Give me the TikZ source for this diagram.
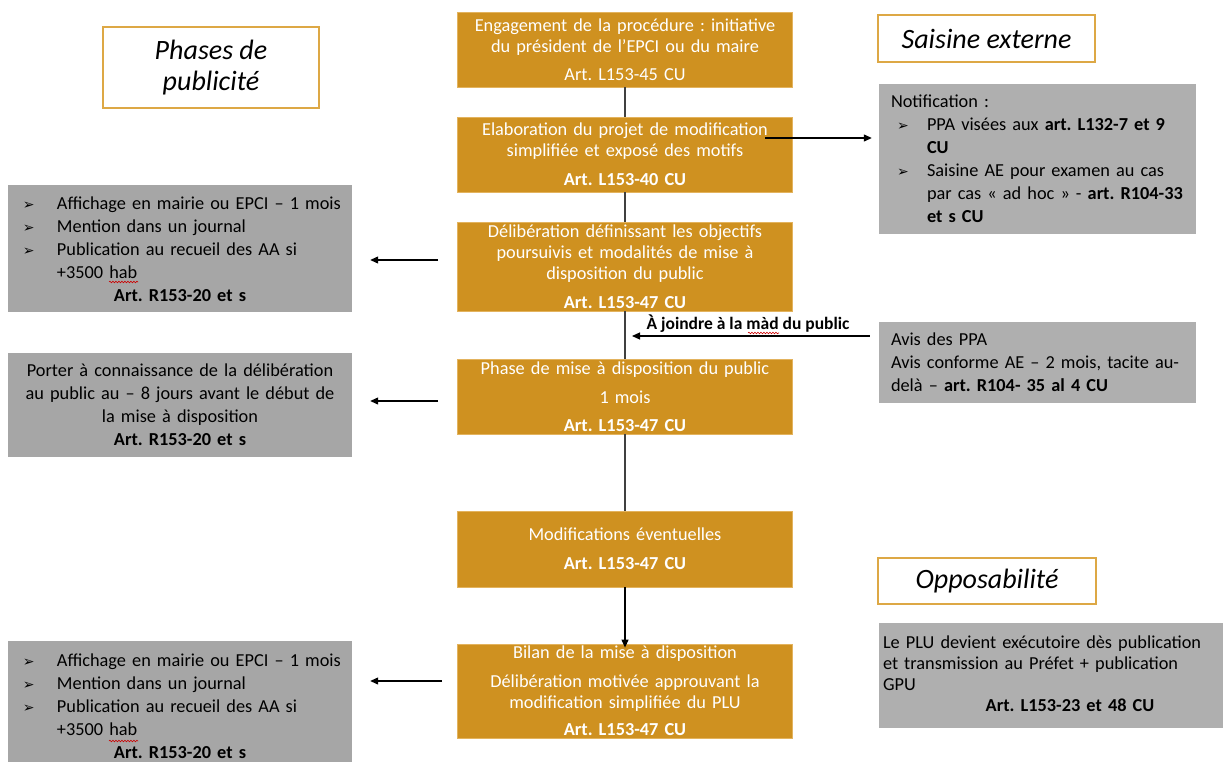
\documentclass[tikz,border=0pt]{standalone}
\usepackage{fontspec}
\setmainfont{Carlito}
\newfontfamily\dejavu{DejaVu Sans}
\usetikzlibrary{arrows.meta,decorations.pathmorphing}
\definecolor{gold}{HTML}{CF9120}
\definecolor{goldedge}{HTML}{E3B35E}
\definecolor{tborder}{HTML}{DDA845}
\definecolor{greyL}{HTML}{A6A6A6}
\definecolor{greyR}{HTML}{AFAFAF}
\definecolor{conn}{HTML}{404040}
\frenchspacing
\newcommand\arrbul{{\dejavu\fontsize{14}{14}\selectfont ➢}}
\newcommand\bulL[1]{\par\noindent\hspace*{7pt}\makebox[34pt][l]{\arrbul}#1\par}
\newcommand\conL[1]{\par\noindent\hspace*{41pt}#1\par}
\newcommand\bulR[1]{\par\noindent\hspace*{6pt}\makebox[30pt][l]{\arrbul}#1\par}
\newcommand\conR[1]{\par\noindent\hspace*{36pt}#1\par}
\begin{document}
\begin{tikzpicture}[x=1pt,y=-1pt,
  obox/.style={fill=gold, draw=goldedge, line width=0.8pt, minimum width=335pt, inner sep=0pt,
    text width=333pt, align=center, text=white, font=\fontsize{18.3}{21}\selectfont},
  tbox/.style={draw=tborder, fill=white, line width=1.2pt, inner sep=0pt, align=center,
    font=\itshape\fontsize{28}{31}\selectfont},
  lbox/.style={fill=greyL, draw=none, inner xsep=8pt, inner ysep=0pt, minimum width=344pt,
    text width=328pt, align=left, text=black, font=\fontsize{18.3}{23}\selectfont},
  rbox/.style={fill=greyR, draw=none, inner xsep=12pt, inner ysep=0pt, minimum width=317pt,
    text width=293pt, align=left, text=black, font=\fontsize{18.3}{23}\selectfont},
  link/.style={draw=conn, line width=1.3pt},
  arrow/.style={draw=black, line width=1.2pt, -{Triangle[length=8pt,width=7pt]}},
  spell/.style={draw=red!80!black, line width=0.6pt, decorate,
    decoration={snake, amplitude=0.8pt, segment length=3pt}}
]
\useasboundingbox (0,0) rectangle (1223,762);

% titles
\node[tbox, minimum width=216pt, minimum height=81pt] (t1) at (211,67.5) {Phases de\\publicité};
\node[tbox, minimum width=217pt, minimum height=47pt] (t2) at (986.5,38.5) {Saisine externe};
\node[tbox, minimum width=218pt, minimum height=46pt] (t3) at (987,581) {Opposabilité};

% main column
\node[obox, minimum height=75pt] (b1) at (625,49.5)
  {Engagement de la procédure : initiative\\du président de l’EPCI ou du maire\\[7pt]Art. L153-45 CU};
\node[obox, minimum height=75pt] (b2) at (625,154.5)
  {Elaboration du projet de modification\\simplifiée et exposé des motifs\\[8pt]\textbf{Art. L153-40 CU}};
\node[obox, minimum height=89pt] (b3) at (625,266.5)
  {Délibération définissant les objectifs\\poursuivis et modalités de mise à\\disposition du public\\[8pt]\textbf{Art. L153-47 CU}};
\node[obox, minimum height=75pt] (b4) at (625,396.5)
  {Phase de mise à disposition du public\\[8pt]1 mois\\[7pt]\textbf{Art. L153-47 CU}};
\node[obox, minimum height=76pt] (b5) at (625,549)
  {Modifications éventuelles\\[8pt]\textbf{Art. L153-47 CU}};
\node[obox, minimum height=94pt] (b6) at (625,691)
  {Bilan de la mise à disposition\\[8pt]Délibération motivée approuvant la\\modification simplifiée du PLU\\[6pt]\textbf{Art. L153-47 CU}};

% left grey boxes
\node[lbox, minimum height=127pt] (g1) at (180,248.5)
  {\bulL{Affichage en mairie ou EPCI – 1 mois}\bulL{Mention dans un journal}\bulL{Publication au recueil des AA si}\conL{+3500 hab}{\centering\textbf{Art. R153-20 et s}\par}\vspace{8pt}};
\node[lbox, minimum height=104pt, align=center] (g2) at (180,405)
  {Porter à connaissance de la délibération\\au public au – 8 jours avant le début de\\la mise à disposition\\\textbf{Art. R153-20 et s}};
\node[lbox, minimum height=127pt] (g3) at (180,704.5)
  {\bulL{Affichage en mairie ou EPCI – 1 mois}\bulL{Mention dans un journal}\bulL{Publication au recueil des AA si}\conL{+3500 hab}{\centering\textbf{Art. R153-20 et s}\par}\vspace{7pt}};

% right grey boxes
\node[rbox, minimum height=150pt] (r1) at (1037.5,159)
  {Notification :\bulR{PPA visées aux \textbf{art. L132-7 et 9}}\conR{\textbf{CU}}\bulR{Saisine AE pour examen au cas}\conR{par cas « ad hoc » - \textbf{art. R104-33}}\conR{\textbf{et s CU}}};
\node[rbox, minimum height=81pt] (r2) at (1037.5,362.5)
  {Avis des PPA\\Avis conforme AE – 2 mois, tacite au-\\delà – \textbf{art. R104- 35 al 4 CU}};
\node[rbox, minimum height=105pt, inner xsep=4pt, minimum width=382pt, text width=374pt,
  font=\fontsize{18.3}{21}\selectfont] (r3) at (1070,675.5)
  {Le PLU devient exécutoire dès publication\\et transmission au Préfet + publication\\GPU\par{\centering\textbf{Art. L153-23 et 48 CU}\par}\vspace{4pt}};

% main connectors
\draw[link] (b1.south) -- (b2.north);
\draw[link] (b2.south) -- (b3.north);
\draw[link] (b3.south) -- (b4.north);
\draw[link] (b4.south) -- (b5.north);
\draw[arrow] (b5.south) -- ([yshift=-4pt]b6.north);

% side arrows
\coordinate (c1) at (438,260);
\coordinate (c2) at (438,401);
\coordinate (c3) at (442,681);
\draw[arrow, shorten >=18pt] (c1) -- (g1.east |- c1);
\draw[arrow, shorten >=18pt] (c2) -- (g2.east |- c2);
\draw[arrow, shorten >=18pt] (c3) -- (g3.east |- c3);

\coordinate (cn) at (765,138);
\draw[arrow, shorten >=7pt] (cn) -- (r1.west |- cn);

\coordinate (jn) at (625,336);
\draw[arrow, shorten <=9pt, shorten >=7pt] (r2.west |- jn) -- (jn);
\node[font=\bfseries\fontsize{17.5}{18}\selectfont, inner sep=0pt] (jl) at (748,324) {À joindre à la màd du public};

% spell-check underlines
\draw[spell] (109,282) -- (138,282);
\draw[spell] (109,741) -- (138,741);
\draw[spell] (748,333) -- (779,333);
\end{tikzpicture}
\end{document}
